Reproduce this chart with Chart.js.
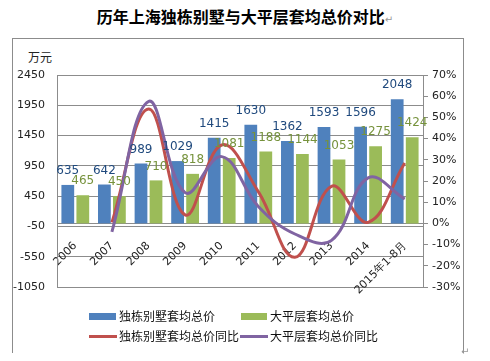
<!DOCTYPE html>
<html>
<head>
<meta charset="utf-8">
<script src="https://cdn.jsdelivr.net/npm/chart.js@4"></script>
<style>
  body { margin: 0; background: #fff; font-family: "Noto Sans CJK SC", "DejaVu Sans", sans-serif; }
  #wrap { position: relative; width: 490px; height: 361px; overflow: hidden; }
  #chart { position: absolute; left: 0; top: 0; }
  .abs { position: absolute; white-space: nowrap; }
  #title { left: 0; width: 490px; top: 4px; text-align: center; font-size: 16px; font-weight: bold; color: #000; }
  .mark { color: #999; font-size: 10px; font-weight: normal; }
  #frame { left: 12px; top: 38px; width: 450px; height: 314px; border: 1px solid #8c8c8c; border-bottom: none; }
  #unit { left: 28px; top: 48px; font-size: 12px; color: #222; }
  .leg { font-size: 12px; color: #111; line-height: 16px; }
  .sw { position: absolute; }
</style>
</head>
<body>
<div id="wrap">
  <div id="title" class="abs">历年上海独栋别墅与大平层套均总价对比<span class="mark">↵</span></div>
  <div id="frame" class="abs"></div>
  <div id="unit" class="abs">万元</div>
  <canvas id="chart" width="490" height="361"></canvas>

  <!-- legend -->
  <div class="sw" style="left:89px;top:313px;width:27px;height:7px;background:#4F81BD"></div>
  <div class="abs leg" style="left:119px;top:308px">独栋别墅套均总价</div>
  <div class="sw" style="left:241px;top:313px;width:26px;height:7px;background:#9BBB59"></div>
  <div class="abs leg" style="left:270px;top:308px">大平层套均总价</div>
  <div class="sw" style="left:89px;top:335px;width:28px;height:3px;background:#C0504D"></div>
  <div class="abs leg" style="left:119px;top:328px">独栋别墅套均总价同比</div>
  <div class="sw" style="left:240px;top:335px;width:28px;height:3px;background:#8064A2"></div>
  <div class="abs leg" style="left:270px;top:328px">大平层套均总价同比</div>
  <div class="abs mark" style="left:461px;top:343px">↵</div>
</div>
<script>
// categories and values
const years = ['2006', '2007', '2008', '2009', '2010', '2011', '2012', '2013', '2014', '2015年1-8月'];
const villaPrice = [635, 642, 989, 1029, 1415, 1630, 1362, 1593, 1596, 2048];
const flatPrice = [465, 450, 710, 818, 1081, 1188, 1144, 1053, 1275, 1424];
// year-on-year change, %
const villaYoY = [null, 0.5, 54, 4, 37, 15, -16, 17.5, 0.5, 28.5];
const flatYoY = [null, -4, 57.5, 14.5, 31.5, 8, -5, -8, 21.5, 11.5];
const leftTicks = [-1050, -550, -50, 450, 950, 1450, 1950, 2450];

const tickFont = { family: 'DejaVu Sans', size: 11 };

// value labels above the bars
const barLabels = {
    id: 'barLabels',
    afterDatasetsDraw(chart) {
        const ctx = chart.ctx;
        ctx.save();
        ctx.font = '12px "DejaVu Sans"';
        ctx.textAlign = 'center';
        ctx.textBaseline = 'middle';
        chart.data.datasets.forEach((ds, i) => {
            if (ds.type !== 'bar') return;
            const meta = chart.getDatasetMeta(i);
            ctx.fillStyle = ds.labelColor;
            meta.data.forEach((el, j) => {
                ctx.fillText(String(ds.data[j]), el.x, el.y - 14);
            });
        });
        ctx.restore();
    }
};

new Chart(document.getElementById('chart'), {
    data: {
        labels: years,
        datasets: [
            {
                type: 'line',
                label: '独栋别墅套均总价同比',
                data: villaYoY,
                yAxisID: 'y1',
                borderColor: '#C0504D',
                borderWidth: 3,
                pointRadius: 0,
                tension: 0.4,
                order: 1
            },
            {
                type: 'line',
                label: '大平层套均总价同比',
                data: flatYoY,
                yAxisID: 'y1',
                borderColor: '#8064A2',
                borderWidth: 3,
                pointRadius: 0,
                tension: 0.4,
                order: 0
            },
            {
                type: 'bar',
                label: '独栋别墅套均总价',
                data: villaPrice,
                yAxisID: 'y',
                backgroundColor: '#4F81BD',
                labelColor: '#1F497D',
                categoryPercentage: 0.82,
                barPercentage: 0.85,
                order: 2
            },
            {
                type: 'bar',
                label: '大平层套均总价',
                data: flatPrice,
                yAxisID: 'y',
                backgroundColor: '#9BBB59',
                labelColor: '#76923C',
                categoryPercentage: 0.82,
                barPercentage: 0.85,
                order: 2
            }
        ]
    },
    options: {
        responsive: false,
        animation: false,
        layout: { padding: { top: 75, bottom: 74, left: 0, right: 0 } },
        plugins: {
            legend: { display: false },
            tooltip: { enabled: false }
        },
        scales: {
            x: {
                position: { y: 0 },
                grid: { display: false },
                border: { display: true, color: '#8c8c8c', width: 1 },
                ticks: {
                    font: tickFont,
                    color: '#222',
                    minRotation: 45,
                    maxRotation: 45,
                    autoSkip: false,
                    padding: 8
                }
            },
            y: {
                position: 'left',
                min: -1050,
                max: 2450,
                afterBuildTicks: scale => { scale.ticks = leftTicks.map(v => ({ value: v })); },
                afterFit: scale => { scale.width = 57; },
                grid: { color: '#8c8c8c', drawTicks: false },
                border: { color: '#8c8c8c' },
                ticks: { font: tickFont, color: '#222', padding: 12, callback: v => String(v) }
            },
            y1: {
                position: 'right',
                min: -30,
                max: 70,
                afterFit: scale => { scale.width = 67; },
                grid: { drawOnChartArea: false, color: '#8c8c8c', tickLength: 5 },
                border: { color: '#8c8c8c' },
                ticks: {
                    stepSize: 10,
                    font: tickFont,
                    color: '#222',
                    padding: 4,
                    callback: v => v + '%'
                }
            }
        }
    },
    plugins: [barLabels]
});
</script>
</body>
</html>
